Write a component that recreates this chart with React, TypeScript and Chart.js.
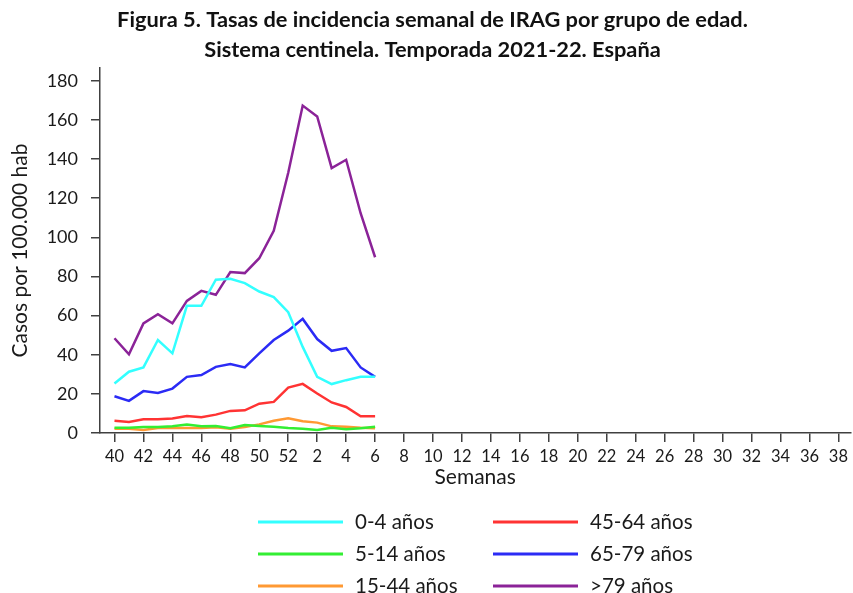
import { useEffect, useRef } from "react";
import { Chart, registerables } from "chart.js";

Chart.register(...registerables);

// Weeks of the 2021-22 season (week 40 of 2021 to week 39 of 2022)
const weeks: number[] = [
  40, 41, 42, 43, 44, 45, 46, 47, 48, 49, 50, 51, 52,
  1, 2, 3, 4, 5, 6, 7, 8, 9, 10, 11, 12, 13, 14, 15, 16, 17, 18, 19, 20,
  21, 22, 23, 24, 25, 26, 27, 28, 29, 30, 31, 32, 33, 34, 35, 36, 37, 38, 39,
];
// Week positions that carry a tick label (every other week: 40, 42 ... 52, 2 ... 38)
const labelledWeekIdx: number[] = [
  0, 2, 4, 6, 8, 10, 12, 14, 16, 18, 20, 22, 24, 26, 28, 30, 32, 34, 36, 38, 40, 42, 44, 46, 48, 50,
];
const yTicks: number[] = [0, 20, 40, 60, 80, 100, 120, 140, 160, 180];

const labels: string[] = ["0-4 años", "5-14 años", "15-44 años", "45-64 años", "65-79 años", ">79 años"];
const colors: string[] = ["#33FFFF", "#33EE33", "#FF9933", "#FF3333", "#2B2BF5", "#8B2398"];

// Weekly rates (weeks 40..52, 1..6)
const age0_4: number[] = [25.3, 31.3, 33.5, 47.5, 40.7, 65, 65, 78.3, 78.8, 76.6, 72.3, 69.4, 61.7, 44, 28.7, 25, 27, 28.7, 28.7];
const age5_14: number[] = [2.7, 2.7, 3.1, 3.1, 3.4, 4.3, 3.4, 3.6, 2.4, 4.1, 3.6, 3.2, 2.6, 2.2, 1.5, 2.7, 1.9, 2.4, 3.2];
const age15_44: number[] = [2.2, 2.2, 1.5, 2.6, 2.6, 2.6, 2.6, 2.9, 2.2, 3.1, 4.4, 6.3, 7.5, 6, 5.3, 3.4, 3.2, 2.7, 2.4];
const age45_64: number[] = [6.2, 5.6, 7, 7, 7.4, 8.7, 8, 9.4, 11.3, 11.6, 15, 15.9, 23.2, 25.1, 20.2, 15.6, 13.3, 8.5, 8.5];
const age65_79: number[] = [18.8, 16.4, 21.4, 20.5, 22.7, 28.7, 29.6, 33.8, 35.2, 33.5, 40.7, 47.5, 52.3, 58.3, 48, 42, 43.4, 33.5, 28.7];
const age79plus: number[] = [48.4, 40.2, 56, 60.7, 56, 67.5, 72.6, 70.6, 82.2, 81.7, 89.3, 103.3, 133, 167.3, 161.7, 135.3, 139.6, 112.3, 89.8];

const series: number[][] = [age0_4, age5_14, age15_44, age45_64, age65_79, age79plus];

const titleLines: string[] = [
  "Figura 5. Tasas de incidencia semanal de IRAG por grupo de edad.",
  "Sistema centinela. Temporada 2021-22. España",
];

const FONT = 'Lato, "Open Sans", "DejaVu Sans", sans-serif';
const TEXT = "#1a1a1a";
const AXIS = "#404040";

const titleAndLegend = {
  id: "titleAndLegend",
  afterDraw(chart: any) {
    const ctx = chart.ctx as CanvasRenderingContext2D;
    ctx.save();
    ctx.fillStyle = "#111";
    ctx.textAlign = "center";
    ctx.textBaseline = "middle";
    ctx.font = `bold 21.8px ${FONT}`;
    ctx.fillText(titleLines[0], 432.5, 20);
    ctx.fillText(titleLines[1], 432.5, 50);

    // Legend: two columns, three rows
    const ds = chart.data.datasets;
    const cols = [
      { lineX: 258, textX: 355 },
      { lineX: 493, textX: 590 },
    ];
    const rowsY = [522, 554, 586];
    ctx.font = `20.5px ${FONT}`;
    ctx.textAlign = "left";
    for (let i = 0; i < ds.length; i++) {
      const col = cols[Math.floor(i / 3)];
      const y = rowsY[i % 3];
      ctx.strokeStyle = ds[i].borderColor;
      ctx.lineWidth = 3;
      ctx.beginPath();
      ctx.moveTo(col.lineX, y);
      ctx.lineTo(col.lineX + 85, y);
      ctx.stroke();
      ctx.fillStyle = TEXT;
      ctx.fillText(ds[i].label, col.textX, y);
    }
    ctx.restore();
  },
};

export default function App() {
  const ref = useRef<HTMLCanvasElement | null>(null);

  useEffect(() => {
    if (!ref.current) return;
    Chart.defaults.font.family = FONT;
    const chart = new Chart(ref.current, {
      type: "line",
      data: {
        datasets: series.map((vals, k) => ({
          label: labels[k],
          data: vals.map((v, i) => ({ x: i, y: v })),
          borderColor: colors[k],
          backgroundColor: colors[k],
          borderWidth: 2.5,
          pointRadius: 0,
          tension: 0,
          fill: false,
        })),
      },
      options: {
        responsive: false,
        animation: false,
        layout: { padding: { top: 68, right: 0, bottom: 100, left: 0 } },
        plugins: {
          legend: { display: false },
          title: { display: false },
          tooltip: { enabled: false },
        },
        scales: {
          x: {
            type: "linear",
            min: -1,
            max: 50.82,
            afterBuildTicks: (s: any) => {
              s.ticks = labelledWeekIdx.map((v) => ({ value: v }));
            },
            afterFit: (s: any) => {
              s.height = 60;
            },
            grid: {
              display: true,
              drawOnChartArea: false,
              drawTicks: true,
              tickLength: 9,
              color: AXIS,
              lineWidth: 1.5,
            },
            border: { display: true, color: AXIS, width: 1.5 },
            ticks: {
              autoSkip: false,
              maxRotation: 0,
              padding: 5,
              color: TEXT,
              font: { size: 16.5 },
              callback: (v: any) => String(weeks[Math.round(Number(v))]),
            },
            title: {
              display: true,
              text: "Semanas",
              color: TEXT,
              font: { size: 21 },
              padding: { top: 0, bottom: 3 },
            },
          },
          y: {
            type: "linear",
            min: 0,
            max: 186.5,
            afterBuildTicks: (s: any) => {
              s.ticks = yTicks.map((v) => ({ value: v }));
            },
            afterFit: (s: any) => {
              s.width = 100;
            },
            grid: {
              display: true,
              drawOnChartArea: false,
              drawTicks: true,
              tickLength: 9,
              color: AXIS,
              lineWidth: 1.5,
            },
            border: { display: true, color: AXIS, width: 1.5 },
            ticks: {
              padding: 13,
              color: TEXT,
              font: { size: 18 },
            },
            title: {
              display: true,
              text: "Casos por 100.000 hab",
              color: TEXT,
              font: { size: 21 },
              padding: { top: 7.5, bottom: 0 },
            },
          },
        },
      },
      plugins: [titleAndLegend],
    } as any);
    return () => chart.destroy();
  }, []);

  return (
    <div style={{ position: "fixed", left: 0, top: 0, width: 853, height: 593, background: "#fff" }}>
      <canvas ref={ref} width={853} height={593} style={{ display: "block" }} />
    </div>
  );
}
